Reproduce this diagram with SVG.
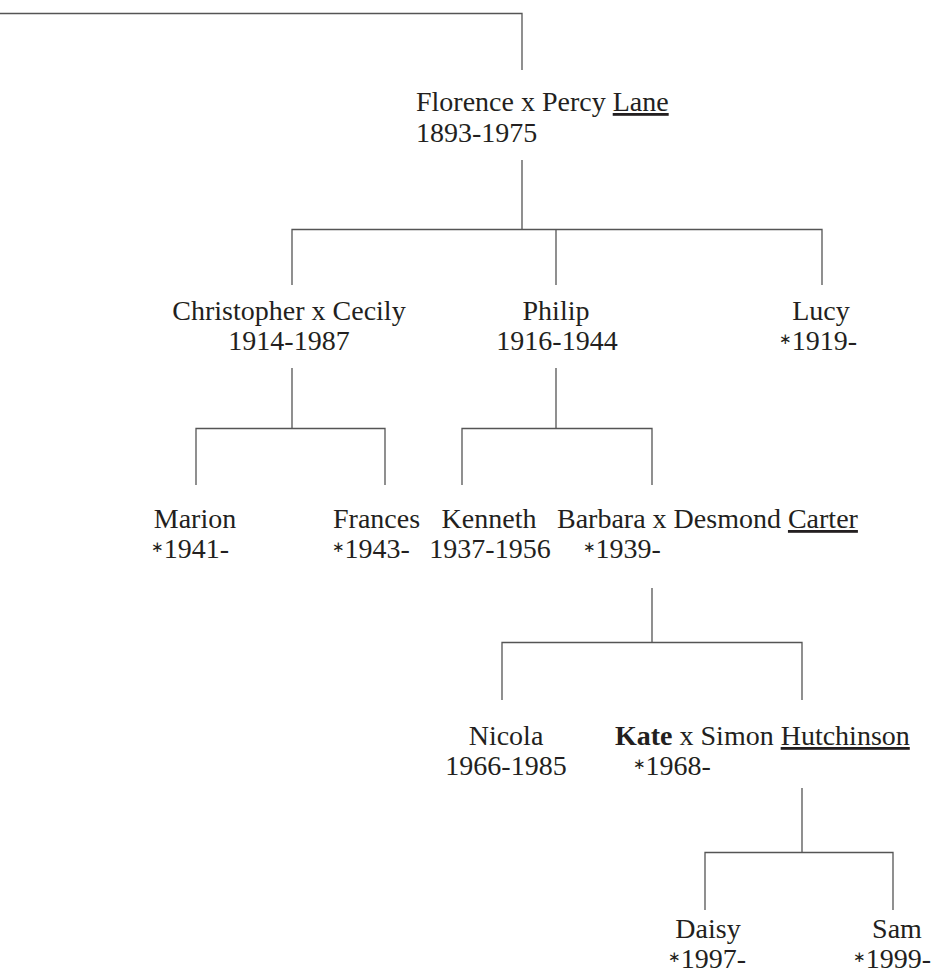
<svg xmlns="http://www.w3.org/2000/svg" width="940" height="978" viewBox="0 0 940 978">
<style>
text{font-family:"Liberation Serif","Times New Roman",serif;font-size:28px;fill:#231f20}
.m{text-anchor:middle}
.u{text-decoration:underline}
.b{font-weight:bold}
.st{font-family:"DejaVu Sans",sans-serif;font-size:15px;baseline-shift:6px}
#connectors path{fill:none;stroke:#555;stroke-width:1.3}
</style>
<rect width="940" height="978" fill="#fff"/>
<g id="connectors">
<path d="M0,13.5H522V70"/>
<path d="M522,160V229.5M292,285V229.5H822V285M556,229.5V285"/>
<path d="M292,368V428.5M196,485V428.5H385V485"/>
<path d="M556,368V428.5M462,485V428.5H652V485"/>
<path d="M652,588V642.5M502,700V642.5H802V700"/>
<path d="M802,788V852.5M705,910V852.5H893V910"/>
</g>
<g id="florence"><text x="416" y="111">Florence x Percy <tspan class="u">Lane</tspan></text><text x="416" y="142">1893-1975</text></g>
<g id="christopher"><text class="m" x="289" y="320">Christopher x Cecily</text><text class="m" x="289" y="350">1914-1987</text></g>
<g id="philip"><text class="m" x="556" y="320">Philip</text><text class="m" x="557" y="350">1916-1944</text></g>
<g id="lucy"><text class="m" x="821" y="320">Lucy</text><text class="m" x="818" y="350"><tspan class="st">∗</tspan>1919-</text></g>
<g id="marion"><text class="m" x="195" y="528">Marion</text><text class="m" x="190" y="558"><tspan class="st">∗</tspan>1941-</text></g>
<g id="frances"><text x="333" y="528">Frances</text><text x="332" y="558"><tspan class="st">∗</tspan>1943-</text></g>
<g id="kenneth"><text class="m" x="489" y="528">Kenneth</text><text class="m" x="490" y="558">1937-1956</text></g>
<g id="barbara"><text x="557" y="528">Barbara x Desmond <tspan class="u">Carter</tspan></text><text x="583" y="558"><tspan class="st">∗</tspan>1939-</text></g>
<g id="nicola"><text class="m" x="506" y="745">Nicola</text><text class="m" x="506" y="775">1966-1985</text></g>
<g id="kate"><text x="615" y="745"><tspan class="b">Kate</tspan> x Simon <tspan class="u">Hutchinson</tspan></text><text x="633" y="775"><tspan class="st">∗</tspan>1968-</text></g>
<g id="daisy"><text class="m" x="708" y="938">Daisy</text><text class="m" x="707" y="968"><tspan class="st">∗</tspan>1997-</text></g>
<g id="sam"><text class="m" x="897" y="938">Sam</text><text class="m" x="892" y="968"><tspan class="st">∗</tspan>1999-</text></g>
</svg>
